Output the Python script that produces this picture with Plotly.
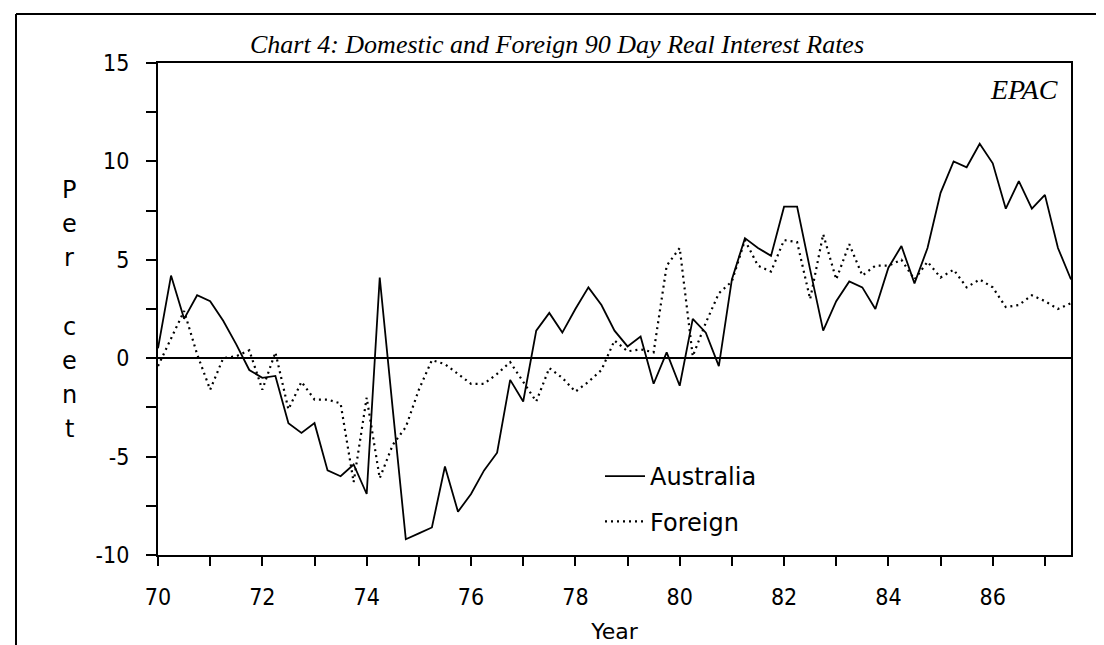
import plotly.graph_objects as go

# Quarterly observations, 1970 Q1 .. 1987 Q3 (x in years, two-digit)
years = [70 + 0.25 * i for i in range(71)]

australia = [
    0.5, 4.2, 2.0, 3.2, 2.9, 1.9, 0.7, -0.6,      # 70-71
    -1.0, -0.9, -3.3, -3.8, -3.3, -5.7, -6.0, -5.4,  # 72-73
    -6.9, 4.1, -2.6, -9.2, -8.9, -8.6, -5.5, -7.8,   # 74-75
    -6.9, -5.7, -4.8, -1.1, -2.2, 1.4, 2.3, 1.3,     # 76-77
    2.5, 3.6, 2.7, 1.4, 0.6, 1.1, -1.3, 0.3,         # 78-79
    -1.4, 2.0, 1.3, -0.4, 4.0, 6.1, 5.6, 5.2,        # 80-81
    7.7, 7.7, 4.5, 1.4, 2.9, 3.9, 3.6, 2.5,          # 82-83
    4.6, 5.7, 3.8, 5.6, 8.4, 10.0, 9.7, 10.9,        # 84-85
    9.9, 7.6, 9.0, 7.6, 8.3, 5.6, 4.0,               # 86-87
]

foreign = [
    -0.4, 1.0, 2.4, 0.2, -1.6, 0.0, 0.1, 0.4,
    -1.6, 0.3, -2.6, -1.2, -2.1, -2.1, -2.3, -6.3,
    -2.0, -6.1, -4.4, -3.5, -1.6, -0.1, -0.3, -0.8,
    -1.3, -1.3, -0.8, -0.2, -1.2, -2.2, -0.5, -1.0,
    -1.7, -1.2, -0.6, 0.9, 0.35, 0.45, 0.3, 4.7,
    5.6, 0.1, 1.8, 3.3, 3.9, 6.0, 4.7, 4.4,
    6.0, 5.9, 3.0, 6.3, 4.0, 5.8, 4.2, 4.7,
    4.7, 5.0, 4.0, 4.9, 4.1, 4.5, 3.6, 4.0,
    3.6, 2.6, 2.7, 3.2, 2.9, 2.5, 2.8,
]

x_ticks = [70, 72, 74, 76, 78, 80, 82, 84, 86]
y_ticks = [-10, -5, 0, 5, 10, 15]

title_text = "Chart 4: Domestic and Foreign 90 Day Real Interest Rates"
source_text = "EPAC"
ylabel_letters = ["P", "e", "r", "", "c", "e", "n", "t"]

W, H = 1104, 645
ML, MR, MT, MB = 150, 41, 55, 98
PW, PH = W - ML - MR, H - MT - MB

def px_x(p):
    return (p - ML) / PW

def px_y(p):
    return 1 - (p - MT) / PH

narrow = "Liberation Sans Narrow, DejaVu Sans Condensed, Arial Narrow, sans-serif"
sans = "DejaVu Sans, Liberation Sans, sans-serif"
serif = "Liberation Serif, Times New Roman, serif"

fig = go.Figure()
fig.add_trace(go.Scatter(
    x=years, y=australia, mode="lines", name="Australia",
    line=dict(color="black", width=1.8), legendgroup="a"))
fig.add_trace(go.Scatter(
    x=years, y=foreign, mode="lines", name="Foreign",
    line=dict(color="black", width=2.2, dash="2px,4px"), legendgroup="f"))

annotations = [
    dict(text="<i>" + title_text + "</i>", x=px_x(240), y=px_y(37), xref="paper", yref="paper",
         xanchor="left", yanchor="middle", showarrow=False,
         font=dict(family=serif, size=26, color="black")),
    dict(text="<i>" + source_text + "</i>", x=px_x(1052), y=px_y(81), xref="paper", yref="paper",
         xanchor="right", yanchor="middle", showarrow=False,
         font=dict(family=serif, size=28, color="black")),
]
y0, step = 182, 34.2
for i, ch in enumerate(ylabel_letters):
    if ch:
        annotations.append(dict(text=ch, x=px_x(61), y=px_y(y0 + i * step), xref="paper", yref="paper",
                                xanchor="center", yanchor="middle", showarrow=False,
                                font=dict(family=sans, size=24, color="black")))

shapes = [
    # outer frame of the figure
    dict(type="line", xref="paper", yref="paper", x0=px_x(8), x1=px_x(1104), y0=px_y(6), y1=px_y(6),
         line=dict(color="black", width=2)),
    dict(type="line", xref="paper", yref="paper", x0=px_x(8), x1=px_x(8), y0=px_y(6), y1=px_y(641),
         line=dict(color="black", width=2)),
    dict(type="line", xref="paper", yref="paper", x0=px_x(0), x1=px_x(1104), y0=px_y(641), y1=px_y(641),
         line=dict(color="black", width=7)),
]

fig.update_layout(
    width=W, height=H,
    margin=dict(l=ML, r=MR, t=MT, b=MB),
    paper_bgcolor="white", plot_bgcolor="white",
    showlegend=True,
    legend=dict(x=px_x(592), y=px_y(446), xanchor="left", yanchor="top",
                font=dict(family=sans, size=24, color="black"),
                bgcolor="rgba(0,0,0,0)", tracegroupgap=11, itemwidth=40),
    annotations=annotations,
    shapes=shapes,
    xaxis=dict(range=[70, 87.5], tickvals=x_ticks, ticktext=[str(v) for v in x_ticks],
               ticks="outside", ticklen=9, tickwidth=1.5, tickcolor="black",
               showline=True, linecolor="black", linewidth=2, mirror=True,
               showgrid=False, zeroline=False,
               minor=dict(dtick=1, tick0=70, ticks="outside", ticklen=9, tickwidth=1.5,
                          tickcolor="black", showgrid=False),
               tickfont=dict(family=narrow, size=23, color="black"),
               ticklabelstandoff=11,
               title=dict(text="Year", font=dict(family=sans, size=22, color="black"), standoff=15)),
    yaxis=dict(range=[-10, 15], tickvals=y_ticks, ticktext=[str(v) for v in y_ticks],
               ticks="outside", ticklen=10, tickwidth=1.5, tickcolor="black",
               showline=True, linecolor="black", linewidth=2, mirror=True,
               showgrid=False, zeroline=True, zerolinecolor="black", zerolinewidth=1.5,
               minor=dict(dtick=2.5, tick0=-10, ticks="outside", ticklen=10, tickwidth=1.5,
                          tickcolor="black", showgrid=False),
               tickfont=dict(family=narrow, size=23, color="black"),
               ticklabelstandoff=12),
)

fig.write_html("out.html")
